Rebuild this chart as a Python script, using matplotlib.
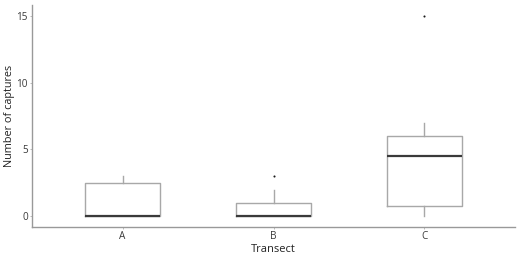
import matplotlib
matplotlib.use("Agg")
import matplotlib.pyplot as plt

plt.rcParams['font.family'] = ['Open Sans', 'DejaVu Sans']

# Box summary per transect
transects = ["A", "B", "C"]
whisker_low = [0, 0, 0]
q1 = [0, 0, 0.75]
medians = [0, 0, 4.5]
q3 = [2.5, 1, 6]
whisker_high = [3, 2, 7]
outliers = [[], [3], [15]]

y_ticks = [0, 5, 10, 15]

stats = []
for i, name in enumerate(transects):
    stats.append(dict(label=name, whislo=whisker_low[i], q1=q1[i], med=medians[i],
                      q3=q3[i], whishi=whisker_high[i], fliers=outliers[i]))

fig = plt.figure(figsize=(5.28, 2.63), dpi=100)
ax = fig.add_axes([32 / 528, 36 / 263, (515 - 32) / 528, (227 - 5) / 263])

box_col = "#a8a8a8"
ax.bxp(stats, positions=[1, 2, 3], widths=0.5, showcaps=False,
       boxprops=dict(color=box_col, linewidth=1.0),
       whiskerprops=dict(color=box_col, linewidth=1.0),
       medianprops=dict(color="#3a3a3a", linewidth=1.6, solid_capstyle="butt"),
       flierprops=dict(marker="o", markersize=1.5, markeredgewidth=0,
                       markerfacecolor="#1a1a1a"))

ax.set_xlim(0.4, 3.6)
ax.set_ylim(-0.8, 15.8)
ax.set_yticks(y_ticks)
ax.set_xticks([1, 2, 3])
ax.set_xticklabels(transects)

for side in ("top", "right"):
    ax.spines[side].set_visible(False)
for side in ("left", "bottom"):
    ax.spines[side].set_color("#999999")
    ax.spines[side].set_linewidth(1.0)

ax.tick_params(axis="both", colors="#b0b0b0", length=1.5, width=0.6, labelsize=7.2,
               labelcolor="#3a3a3a", pad=1.5)

ax.set_xlabel("Transect", fontsize=8, color="#222222")
ax.set_ylabel("Number of captures", fontsize=7.8, color="#222222")
ax.yaxis.set_label_coords(-16.5 / 483, 0.5)
ax.xaxis.set_label_coords(0.5, -17 / 222)

fig.savefig("out.png", dpi=100, facecolor="white")
